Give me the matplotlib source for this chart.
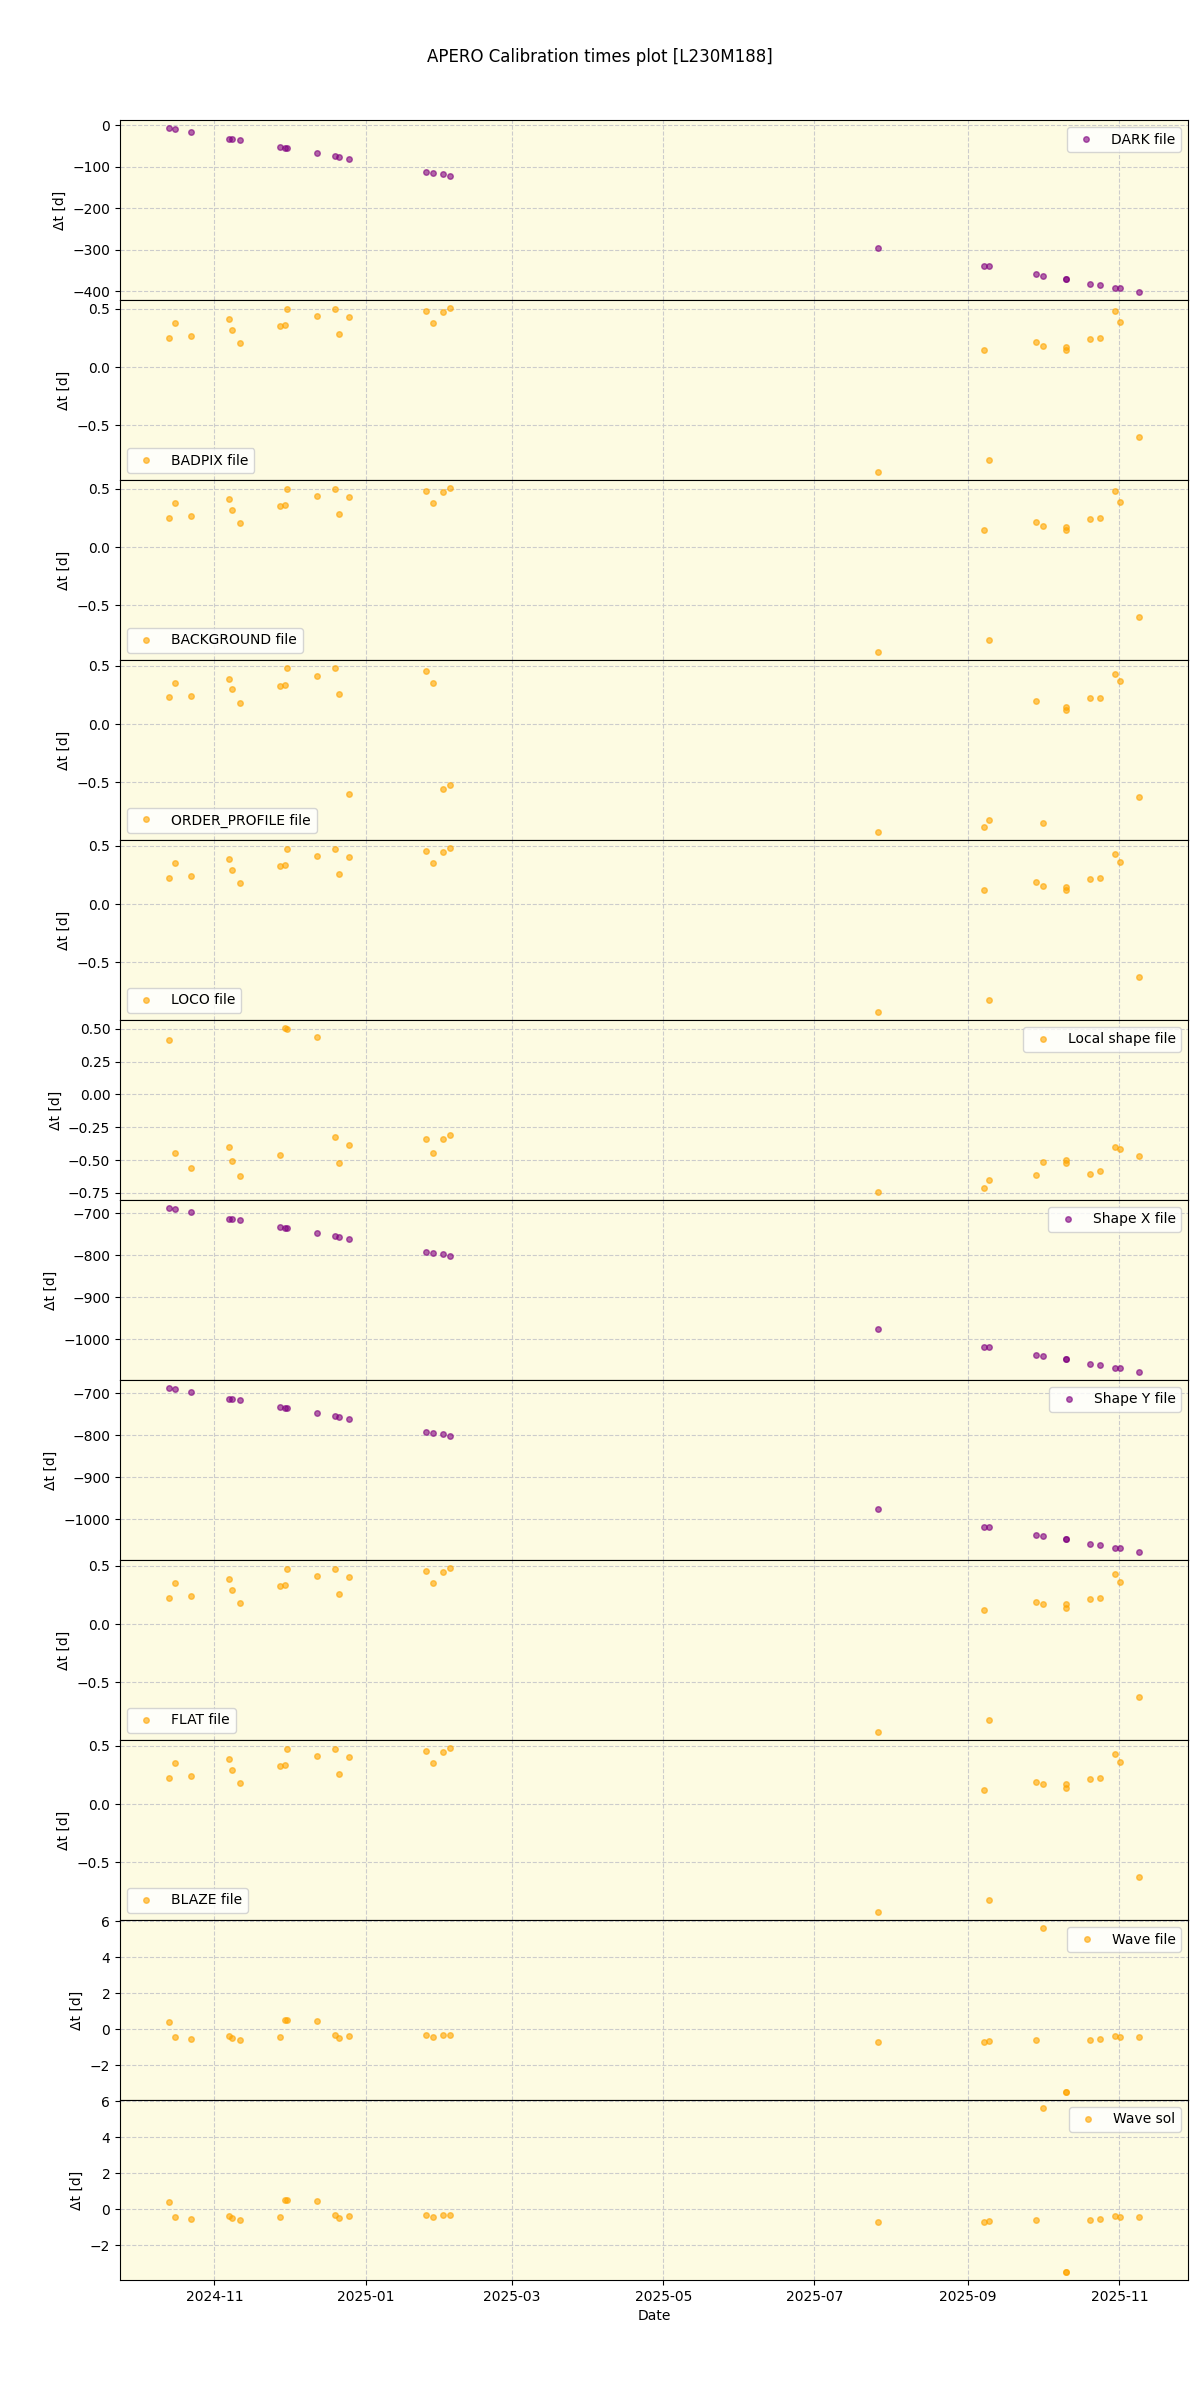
import numpy as np
import pandas as pd
import matplotlib
matplotlib.use("Agg")
import matplotlib.pyplot as plt
import matplotlib.dates as mdates

# dates of the calibration files
dates = pd.to_datetime([
    "2024-10-13 12:00", "2024-10-16 05:00", "2024-10-22 10:00", "2024-11-07 00:00",
    "2024-11-08 02:00", "2024-11-11 12:00", "2024-11-27 07:00", "2024-11-29 07:00",
    "2024-11-30 02:00", "2024-12-12 07:00", "2024-12-19 19:00", "2024-12-21 02:00",
    "2024-12-25 02:00", "2025-01-25 07:00", "2025-01-28 02:00", "2025-02-01 02:00",
    "2025-02-03 22:00", "2025-07-26 12:00", "2025-09-07 10:00", "2025-09-09 10:00",
    "2025-09-28 10:00", "2025-10-01 07:00", "2025-10-10 14:00", "2025-10-10 14:00",
    "2025-10-20 07:00", "2025-10-24 07:00", "2025-10-30 10:00", "2025-11-01 10:00",
    "2025-11-09 02:00",
])

dark = [-7.2, -9.6, -16.8, -33.6, -33.6, -36.0, -52.8, -55.2, -55.2, -67.2, -74.4, -76.8,
        -81.6, -112.8, -115.2, -117.6, -122.4, -295.2, -338.4, -338.4, -357.6, -362.4,
        -369.6, -369.6, -381.6, -384.0, -391.2, -391.2, -400.8]
badpix = [0.249, 0.377, 0.266, 0.411, 0.317, 0.206, 0.351, 0.360, 0.497, 0.437, 0.497, 0.283,
          0.429, 0.480, 0.377, 0.471, 0.506, -0.900, 0.146, -0.797, 0.214, 0.180, 0.171,
          0.146, 0.240, 0.249, 0.480, 0.386, -0.600]
background = [0.248, 0.376, 0.265, 0.410, 0.316, 0.205, 0.350, 0.359, 0.496, 0.436, 0.496, 0.282,
              0.427, 0.479, 0.376, 0.470, 0.504, -0.897, 0.145, -0.795, 0.214, 0.179, 0.171,
              0.145, 0.239, 0.248, 0.479, 0.385, -0.598]
order_profile = [0.231, 0.351, 0.240, 0.385, 0.300, 0.180, 0.325, 0.334, 0.479, 0.411, 0.479, 0.257,
                 -0.599, 0.454, 0.351, -0.556, -0.522, -0.924, -0.882, -0.822, 0.197, -0.847, 0.146,
                 0.120, 0.223, 0.223, 0.428, 0.368, -0.625]
loco = [0.223, 0.351, 0.240, 0.385, 0.291, 0.180, 0.325, 0.334, 0.471, 0.411, 0.471, 0.257,
        0.402, 0.454, 0.351, 0.445, 0.479, -0.924, 0.120, -0.822, 0.188, 0.154, 0.146,
        0.120, 0.214, 0.223, 0.428, 0.360, -0.625]
local_shape = [0.414, -0.446, -0.560, -0.400, -0.507, -0.621, -0.461, 0.505, 0.497, 0.437, -0.324,
               -0.522, -0.385, -0.339, -0.446, -0.339, -0.309, -0.742, -0.712, -0.651, -0.613,
               -0.514, -0.499, -0.522, -0.605, -0.583, -0.400, -0.415, -0.469]
shape_x = [-688.0, -690.4, -697.6, -714.4, -714.4, -716.8, -733.5, -735.9, -735.9, -747.9, -755.1,
           -757.4, -762.2, -793.4, -795.7, -798.1, -802.9, -975.3, -1017.5, -1017.5, -1036.5,
           -1041.0, -1048.0, -1048.0, -1059.5, -1062.0, -1068.5, -1068.5, -1077.5]
shape_y = [-688.0, -690.4, -697.6, -714.4, -714.4, -716.8, -733.5, -735.9, -735.9, -747.9, -755.1,
           -757.4, -762.2, -793.4, -795.7, -798.1, -802.9, -975.3, -1017.5, -1017.5, -1036.5,
           -1041.0, -1048.0, -1048.0, -1059.5, -1062.0, -1068.5, -1068.5, -1077.5]
flat = [0.222, 0.350, 0.239, 0.385, 0.291, 0.179, 0.325, 0.333, 0.470, 0.410, 0.470, 0.256,
        0.402, 0.453, 0.350, 0.444, 0.479, -0.923, 0.120, -0.821, 0.188, 0.171, 0.171,
        0.137, 0.214, 0.222, 0.427, 0.359, -0.624]
blaze = [0.222, 0.350, 0.239, 0.385, 0.291, 0.179, 0.325, 0.333, 0.470, 0.410, 0.470, 0.256,
         0.402, 0.453, 0.350, 0.444, 0.479, -0.923, 0.120, -0.821, 0.188, 0.171, 0.171,
         0.137, 0.214, 0.222, 0.427, 0.359, -0.624]
wave_file = [0.389, -0.444, -0.556, -0.389, -0.500, -0.611, -0.444, 0.500, 0.500, 0.444, -0.333,
             -0.500, -0.389, -0.333, -0.444, -0.333, -0.333, -0.722, -0.722, -0.667, -0.611,
             5.611, -3.460, -3.460, -0.611, -0.556, -0.389, -0.444, -0.444]
wave_sol = [0.389, -0.444, -0.556, -0.389, -0.500, -0.611, -0.444, 0.500, 0.500, 0.444, -0.333,
            -0.500, -0.389, -0.333, -0.444, -0.333, -0.333, -0.722, -0.722, -0.667, -0.611,
            5.611, -3.460, -3.460, -0.611, -0.556, -0.389, -0.444, -0.444]

labels = ["DARK file", "BADPIX file", "BACKGROUND file", "ORDER_PROFILE file", "LOCO file",
          "Local shape file", "Shape X file", "Shape Y file", "FLAT file", "BLAZE file",
          "Wave file", "Wave sol"]
series = [dark, badpix, background, order_profile, loco, local_shape, shape_x, shape_y,
          flat, blaze, wave_file, wave_sol]
colours = ["purple", "orange", "orange", "orange", "orange", "orange", "purple", "purple",
           "orange", "orange", "orange", "orange"]
legend_loc = ["upper right", "lower left", "lower left", "lower left", "lower left", "upper right",
              "upper right", "upper right", "lower left", "lower left", "upper right", "upper right"]

fig, axes = plt.subplots(len(series), 1, figsize=(12, 24), sharex=True)
fig.subplots_adjust(left=0.1, right=0.99, top=0.95, bottom=0.05, hspace=0)
fig.suptitle("APERO Calibration times plot [L230M188]", y=0.980)

for i, ax in enumerate(axes):
    ax.set_facecolor("#fdfbe2")
    ax.plot(dates, series[i], "o", color=colours[i], alpha=0.6, ms=4, label=labels[i])
    ax.set_ylabel("Δt [d]")
    ax.grid(True, linestyle="--", color="#cccccc")
    ax.legend(loc=legend_loc[i])

axes[-1].xaxis.set_major_locator(mdates.MonthLocator(bymonth=[1, 3, 5, 7, 9, 11]))
axes[-1].xaxis.set_major_formatter(mdates.DateFormatter("%Y-%m"))
axes[-1].set_xlabel("Date")

plt.savefig("out.png", dpi=100)
